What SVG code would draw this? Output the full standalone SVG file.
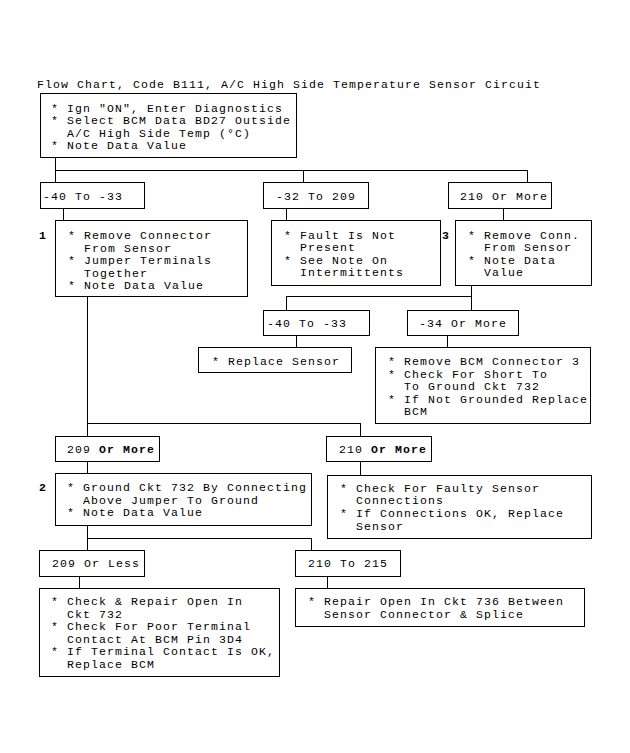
<svg xmlns="http://www.w3.org/2000/svg" width="630" height="753" viewBox="0 0 630 753">
<style>
rect{fill:none;stroke:#000;stroke-width:1;shape-rendering:crispEdges}
.c{fill:none;stroke:#000;stroke-width:1;shape-rendering:crispEdges}
text{font-family:"Liberation Mono","DejaVu Sans Mono",monospace;font-size:11.5px;letter-spacing:1.1px;fill:#000}
.b{font-weight:bold}
</style>
<rect x="0" y="0" width="630" height="753" style="fill:#fff;stroke:none"/>
<text x="37" y="87.5">Flow Chart, Code B111, A/C High Side Temperature Sensor Circuit</text>
<g id="connectors">
<path class="c" d="M55.5,157.5V182.5M55.5,170.5H527.5V182.5M303.5,170.5V182.5"/>
<path class="c" d="M63.5,208.5V220.5M286.5,208.5V220.5M503.5,208.5V220.5"/>
<path class="c" d="M471.5,285.5V310.5M471.5,296.5H286.5V310.5"/>
<path class="c" d="M296.5,335.5V347.5M447.5,335.5V347.5"/>
<path class="c" d="M87.5,296.5V436.5M87.5,423.5H360.5V436.5"/>
<path class="c" d="M87.5,461.5V473.5M360.5,461.5V475.5"/>
<path class="c" d="M87.5,525.5V550.5M87.5,538.5H311.5V550.5"/>
<path class="c" d="M79.5,576.5V588.5M327.5,576.5V588.5"/>
</g>
<g id="start">
<rect x="40.5" y="93.5" width="256" height="64"/>
<text x="51" y="111.5">* Ign "ON", Enter Diagnostics</text>
<text x="51" y="124.1">* Select BCM Data BD27 Outside</text>
<text x="67" y="136.7">A/C High Side Temp (°C)</text>
<text x="51" y="149.3">* Note Data Value</text>
</g>
<g id="r1a">
<rect x="40.5" y="182.5" width="104" height="26"/>
<text x="43" y="199.5">-40 To -33</text>
</g>
<g id="r1b">
<rect x="263.5" y="182.5" width="105" height="26"/>
<text x="276" y="199.5">-32 To 209</text>
</g>
<g id="r1c">
<rect x="448.5" y="182.5" width="103" height="26"/>
<text x="460" y="199.5">210 Or More</text>
</g>
<g id="step1">
<text class="b" x="39" y="239">1</text>
<rect x="55.5" y="220.5" width="192" height="76"/>
<text x="68" y="239">* Remove Connector</text>
<text x="84" y="251.6">From Sensor</text>
<text x="68" y="264.2">* Jumper Terminals</text>
<text x="84" y="276.8">Together</text>
<text x="68" y="289.4">* Note Data Value</text>
</g>
<g id="fault">
<rect x="271.5" y="220.5" width="169" height="65"/>
<text x="284" y="238.5">* Fault Is Not</text>
<text x="300" y="251.1">Present</text>
<text x="284" y="263.7">* See Note On</text>
<text x="300" y="276.3">Intermittents</text>
</g>
<g id="step3">
<text class="b" x="442" y="238.5">3</text>
<rect x="455.5" y="220.5" width="136" height="65"/>
<text x="468" y="238.5">* Remove Conn.</text>
<text x="484" y="251.1">From Sensor</text>
<text x="468" y="263.7">* Note Data</text>
<text x="484" y="276.3">Value</text>
</g>
<g id="r2a">
<rect x="263.5" y="310.5" width="106" height="25"/>
<text x="267" y="327">-40 To -33</text>
</g>
<g id="r2b">
<rect x="407.5" y="310.5" width="111" height="25"/>
<text x="419" y="327">-34 Or More</text>
</g>
<g id="replace">
<rect x="198.5" y="347.5" width="153" height="25"/>
<text x="212" y="364.5">* Replace Sensor</text>
</g>
<g id="bcm">
<rect x="375.5" y="347.5" width="215" height="76"/>
<text x="388" y="365">* Remove BCM Connector 3</text>
<text x="388" y="377.6">* Check For Short To</text>
<text x="404" y="390.2">To Ground Ckt 732</text>
<text x="388" y="402.8">* If Not Grounded Replace</text>
<text x="404" y="415.4">BCM</text>
</g>
<g id="r3a">
<rect x="55.5" y="436.5" width="104" height="25"/>
<text x="67" y="453">209 <tspan class="b">Or More</tspan></text>
</g>
<g id="r3b">
<rect x="326.5" y="436.5" width="105" height="25"/>
<text x="339" y="453">210 <tspan class="b">Or More</tspan></text>
</g>
<g id="step2">
<text class="b" x="39" y="491">2</text>
<rect x="55.5" y="473.5" width="256" height="52"/>
<text x="67" y="491">* Ground Ckt 732 By Connecting</text>
<text x="83" y="503.6">Above Jumper To Ground</text>
<text x="67" y="516.2">* Note Data Value</text>
</g>
<g id="faulty">
<rect x="327.5" y="475.5" width="264" height="63"/>
<text x="340" y="491.7">* Check For Faulty Sensor</text>
<text x="356" y="504.3">Connections</text>
<text x="340" y="516.9">* If Connections OK, Replace</text>
<text x="356" y="529.5">Sensor</text>
</g>
<g id="r4a">
<rect x="39.5" y="550.5" width="105" height="26"/>
<text x="52" y="567">209 Or Less</text>
</g>
<g id="r4b">
<rect x="295.5" y="550.5" width="105" height="26"/>
<text x="308" y="567">210 To 215</text>
</g>
<g id="repair732">
<rect x="39.5" y="588.5" width="240" height="88"/>
<text x="51" y="605">* Check &amp; Repair Open In</text>
<text x="67" y="617.6">Ckt 732</text>
<text x="51" y="630.2">* Check For Poor Terminal</text>
<text x="67" y="642.8">Contact At BCM Pin 3D4</text>
<text x="51" y="655.4">* If Terminal Contact Is OK,</text>
<text x="67" y="668">Replace BCM</text>
</g>
<g id="repair736">
<rect x="295.5" y="588.5" width="289" height="38"/>
<text x="308" y="605">* Repair Open In Ckt 736 Between</text>
<text x="324" y="617.6">Sensor Connector &amp; Splice</text>
</g>
</svg>
